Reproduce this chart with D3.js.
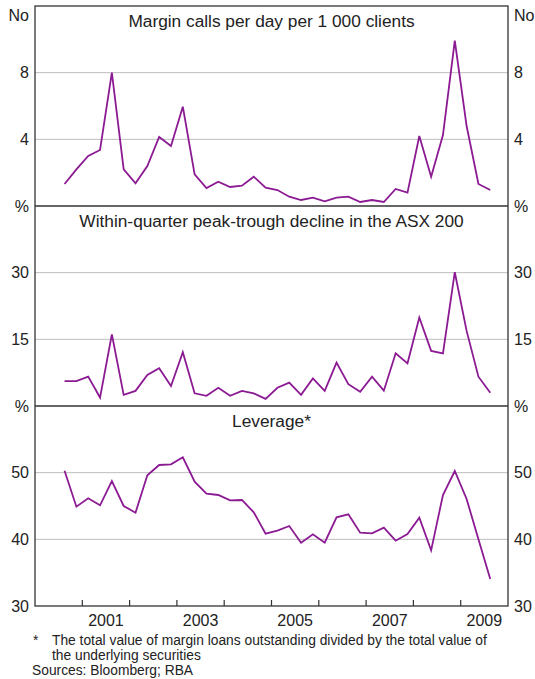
<!DOCTYPE html>
<html>
<head>
<meta charset="utf-8">
<script src="https://cdn.jsdelivr.net/npm/d3@7"></script>
<style>
  html, body { margin: 0; padding: 0; background: #fff; }
  svg { display: block; font-family: "Liberation Sans", Arial, sans-serif; }
</style>
</head>
<body>
<svg id="chart" width="535" height="679"></svg>
<script>
// ---- Data (quarterly, 2000 Q3 to 2009 Q3) ----
const startYear = 2000.625;
const marginCalls = [1.32, 2.2, 3.0, 3.36, 8.0, 2.2, 1.36, 2.4, 4.14, 3.6, 5.96, 1.9, 1.08, 1.46, 1.14, 1.22, 1.76, 1.1,
  0.96, 0.56, 0.36, 0.5, 0.28, 0.5, 0.56, 0.24, 0.36, 0.24, 1.02, 0.8, 4.2, 1.76, 4.26, 9.92, 4.8, 1.32, 0.96];
const asxDecline = [5.6, 5.6, 6.6, 1.9, 16.1, 2.5, 3.4, 7.0, 8.5, 4.5, 12.1, 2.85, 2.3, 4.1, 2.3, 3.4, 2.85, 1.6,
  4.1, 5.25, 2.5, 6.2, 3.4, 9.75, 4.9, 3.2, 6.6, 3.45, 11.85, 9.6, 19.9, 12.4, 11.85, 30.1, 16.9, 6.6, 3.0];
const leverage = [50.3, 44.9, 46.15, 45.1, 48.75, 45.0, 44.0, 49.6, 51.15, 51.25, 52.3, 48.65, 46.85, 46.65, 45.85, 45.9, 44.05, 40.85,
  41.3, 42.0, 39.5, 40.75, 39.5, 43.3, 43.75, 41.0, 40.9, 41.75, 39.8, 40.8, 43.25, 38.35, 46.65, 50.25, 46.05, 40.0, 34.05];

const panelTitles = ["Margin calls per day per 1 000 clients", "Within-quarter peak-trough decline in the ASX 200", "Leverage*"];
const panelUnits = ["No", "%", "%"];
const panelDomains = [[0, 12], [0, 45], [30, 60]];
const panelTicks = [[4, 8], [15, 30], [40, 50]];
const yearLabels = [2001, 2003, 2005, 2007, 2009];
const yearTicks = [2001, 2002, 2003, 2004, 2005, 2006, 2007, 2008, 2009];
const footnote = ["The total value of margin loans outstanding divided by the total value of", "the underlying securities"];
const sources = "Sources: Bloomberg; RBA";

// ---- Layout ----
const svg = d3.select("#chart");
const plotL = 35, plotR = 508, plotT = 6, panelH = 200;
const lineColor = "#8b1a93";
const textColor = "#222";
const frameColor = "#333";

const x = d3.scaleLinear().domain([2000, 2010]).range([plotL, plotR]);
const seriesList = [marginCalls, asxDecline, leverage];

seriesList.forEach((series, p) => {
  const y0 = plotT + p * panelH;
  const y = d3.scaleLinear().domain(panelDomains[p]).range([y0 + panelH, y0]);
  const g = svg.append("g");

  // gridlines
  g.selectAll("line.grid").data(panelTicks[p]).enter().append("line")
    .attr("x1", plotL).attr("x2", plotR)
    .attr("y1", d => y(d)).attr("y2", d => y(d))
    .attr("stroke", "#bdbdbd").attr("stroke-width", 1);

  // left & right tick labels
  [["end", plotL - 6], ["start", plotR + 6]].forEach(([anchor, xp]) => {
    g.selectAll(null).data(panelTicks[p]).enter().append("text")
      .attr("x", xp).attr("y", d => y(d)).attr("dy", "0.36em")
      .attr("text-anchor", anchor).attr("font-size", 16).attr("fill", textColor)
      .text(d => d);
    // unit label at top of panel
    g.append("text").attr("x", xp)
      .attr("y", y0 + (p === 0 ? 9 : 0)).attr("dy", "0.36em")
      .attr("text-anchor", anchor)
      .attr("font-size", 16).attr("fill", textColor)
      .text(panelUnits[p]);
  });

  // title
  g.append("text").attr("x", (plotL + plotR) / 2).attr("y", y0 + 21)
    .attr("text-anchor", "middle").attr("font-size", 17.3).attr("fill", textColor)
    .text(panelTitles[p]);

  // line
  const line = d3.line()
    .x((d, i) => x(startYear + i * 0.25))
    .y(d => y(d));
  g.append("path").datum(series)
    .attr("d", line).attr("fill", "none")
    .attr("stroke", lineColor).attr("stroke-width", 1.8)
    .attr("stroke-linejoin", "miter");
});

// bottom "30" labels
const plotB = plotT + 3 * panelH;
const y3 = d3.scaleLinear().domain(panelDomains[2]).range([plotB, plotT + 2 * panelH]);
svg.append("text").attr("x", plotL - 6).attr("y", y3(30)).attr("dy", "0.36em")
  .attr("text-anchor", "end").attr("font-size", 16).attr("fill", textColor).text(30);
svg.append("text").attr("x", plotR + 6).attr("y", y3(30)).attr("dy", "0.36em")
  .attr("text-anchor", "start").attr("font-size", 16).attr("fill", textColor).text(30);

// frame and separators
svg.append("rect").attr("x", plotL).attr("y", plotT).attr("width", plotR - plotL).attr("height", plotB - plotT)
  .attr("fill", "none").attr("stroke", frameColor).attr("stroke-width", 1.3);
[1, 2].forEach(k => {
  svg.append("line").attr("x1", plotL).attr("x2", plotR)
    .attr("y1", plotT + k * panelH).attr("y2", plotT + k * panelH)
    .attr("stroke", frameColor).attr("stroke-width", 1.3);
});

// year ticks (inside, upward)
svg.selectAll("line.yt").data(yearTicks).enter().append("line")
  .attr("x1", d => x(d)).attr("x2", d => x(d))
  .attr("y1", plotB).attr("y2", plotB - 6)
  .attr("stroke", frameColor).attr("stroke-width", 1.2);

// year labels centered within year
svg.selectAll("text.yl").data(yearLabels).enter().append("text")
  .attr("x", d => x(d + 0.5)).attr("y", plotB + 20)
  .attr("text-anchor", "middle").attr("font-size", 16).attr("fill", textColor)
  .text(d => d);

// footnotes
const fs = 13.8;
svg.append("text").attr("x", 33).attr("y", 645).attr("font-size", fs).attr("fill", textColor).text("*");
footnote.forEach((t, i) => {
  svg.append("text").attr("x", 52).attr("y", 645 + i * 15)
    .attr("font-size", fs).attr("fill", textColor).text(t);
});
svg.append("text").attr("x", 32).attr("y", 675).attr("font-size", fs).attr("fill", textColor).text(sources);
</script>
</body>
</html>
